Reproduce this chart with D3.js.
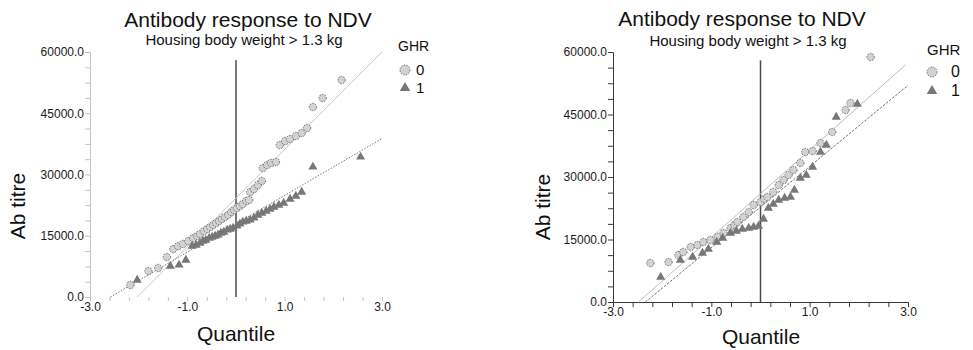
<!DOCTYPE html>
<html>
<head>
<meta charset="utf-8">
<script src="https://cdn.jsdelivr.net/npm/d3@7"></script>
<style>
	body { margin: 0; background: #fff; }
	svg { display: block; font-family: 'Liberation Sans', Arial, sans-serif; }
</style>
</head>
<body>
<div id="chart"></div>
<script>
// tick labels
const yMajorTicks = [0, 15000, 30000, 45000, 60000];
const yMinorTicks = [3750, 7500, 11250, 18750, 22500, 26250, 33750, 37500, 41250, 48750, 52500, 56250];
const xLabelTicks = [-3, -1, 1, 3];
const xMinorTicks = [-2.6, -2.2, -1.8, -1.4, -0.6, -0.2, 0.2, 0.6, 1.4, 1.8, 2.2, 2.6];
const groups = ['0', '1'];

// left panel, GHR = 0 (circles)
const leftQuantile0 = [-2.17, -1.80, -1.60, -1.42, -1.29, -1.19, -1.09, -0.98, -0.88, -0.80, -0.74, -0.66,
	-0.59, -0.53, -0.47, -0.41, -0.35, -0.29, -0.23, -0.16, -0.10, -0.04, 0.02, 0.08, 0.14, 0.21, 0.27,
	0.29, 0.37, 0.45, 0.53, 0.55, 0.64, 0.72, 0.82, 0.90, 1.01, 1.11, 1.23, 1.35, 1.46, 1.58, 1.78, 2.17];
const leftTitre0 = [2940, 6370, 7100, 9800, 11750, 12490, 12980, 13710, 14450, 14940, 15430, 16160,
	16650, 17140, 17630, 18120, 18610, 19100, 19590, 20080, 20820, 21310, 21800, 22290, 22780, 23510, 23760,
	25710, 26450, 27430, 28410, 31590, 32330, 32820, 33060, 37220, 38200, 38690, 39430, 40160, 41390, 46530, 48730, 53140];

// left panel, GHR = 1 (triangles)
const leftQuantile1 = [-2.03, -1.35, -1.17, -1.03, -0.90, -0.82, -0.74, -0.68, -0.62, -0.55, -0.49, -0.43,
	-0.37, -0.31, -0.25, -0.18, -0.12, -0.06, 0.02, 0.08, 0.14, 0.21, 0.29, 0.37, 0.45, 0.53, 0.62, 0.70,
	0.78, 0.88, 0.98, 1.11, 1.23, 1.35, 1.58, 2.56];
const leftTitre1 = [4160, 7590, 7840, 9060, 12490, 12730, 13220, 13710, 13960, 14450, 14690, 14940,
	15180, 15670, 15920, 16410, 16650, 16900, 17390, 17880, 18370, 18610, 18860, 19350, 20080, 20570, 21060, 21550,
	22040, 22530, 23020, 24000, 24730, 25710, 31840, 34290];

// right panel, GHR = 0 (circles)
const rightQuantile0 = [-2.24, -1.87, -1.67, -1.57, -1.42, -1.28, -1.16, -1.02, -0.87, -0.75, -0.61, -0.53,
	-0.47, -0.35, -0.24, -0.14, 0.00, 0.08, 0.14, 0.26, 0.37, 0.47, 0.57, 0.67, 0.81, 0.91, 1.06, 1.22,
	1.46, 1.73, 1.83, 2.24];
const rightTitre0 = [9360, 9600, 11280, 12000, 13200, 13680, 14400, 14880, 15600, 16560, 17760, 18480,
	19200, 20400, 21600, 23280, 24000, 24720, 25200, 26400, 28080, 29280, 30480, 31680, 33360, 36000, 36240, 38160,
	40800, 46080, 47760, 58800];

// right panel, GHR = 1 (triangles)
const rightQuantile1 = [-2.03, -1.63, -1.38, -1.18, -1.06, -0.89, -0.77, -0.61, -0.49, -0.37, -0.24, -0.14,
	-0.04, 0.06, 0.16, 0.26, 0.37, 0.49, 0.61, 0.69, 0.81, 0.93, 1.06, 1.22, 1.34, 1.54, 1.97];
const rightTitre1 = [6000, 10080, 10800, 11760, 12720, 14400, 15360, 16560, 17040, 17520, 17760, 18000,
	18240, 19920, 22560, 23520, 24480, 24960, 25200, 26880, 29760, 30480, 32400, 36000, 37680, 44400, 47520];

// fitted lines [quantile, titre] end points
const leftFit0 = [[-2.03, 0], [3.0, 60000]];
const leftFit1 = [[-2.58, 0], [3.0, 38800]];
const rightFit0 = [[-2.48, 0], [2.95, 56900]];
const rightFit1 = [[-2.34, 0], [3.0, 52000]];

const width = 973;
const height = 350;

const svg = d3.select('#chart').append('svg')
	.attr('width', width)
	.attr('height', height);

svg.append('rect')
	.attr('width', width)
	.attr('height', height)
	.attr('fill', '#fff');

const panels = [
	{
		left: 90, right: 382, top: 52, bottom: 297,
		axisColor: '#c4c4c4', xDomain: false,
		xLabelPad: 1, xTickSize: 4, yLabelPad: 1,
		title: [248, 27], subtitle: [244, 45],
		yTitle: [25, 206], xTitle: [236, 341],
		legend: { x: 398, y: 51, sym: 405, text: 416, rows: [70, 88], font: 14 },
		q0: leftQuantile0, v0: leftTitre0, q1: leftQuantile1, v1: leftTitre1,
		fit0: leftFit0, fit1: leftFit1,
		fit0Style: { stroke: '#c8c8c8', dash: null },
		fit1Style: { stroke: '#7a7a7a', dash: '1.5,1.5' },
	},
	{
		left: 613, right: 908, top: 52, bottom: 302,
		axisColor: '#3a3a3a', xDomain: true,
		xLabelPad: 0, xTickSize: 5, yLabelPad: 1,
		title: [742, 26], subtitle: [748, 46],
		yTitle: [550, 207], xTitle: [761, 344],
		legend: { x: 927, y: 55, sym: 932, text: 951, rows: [72, 91], font: 15 },
		q0: rightQuantile0, v0: rightTitre0, q1: rightQuantile1, v1: rightTitre1,
		fit0: rightFit0, fit1: rightFit1,
		fit0Style: { stroke: '#bdbdbd', dash: null },
		fit1Style: { stroke: '#6e6e6e', dash: '2.5,1.5' },
	},
];

const fmt = (d) => d.toFixed(1);
const triangle = d3.symbol().type(d3.symbolTriangle).size(36);

function drawPanel(p) {
	const xScale = d3.scaleLinear().domain([-3, 3]).range([p.left, p.right]);
	const yScale = d3.scaleLinear().domain([0, 60000]).range([p.bottom, p.top]);
	const g = svg.append('g');

	// y axis
	g.append('g')
		.attr('transform', `translate(${p.left},0)`)
		.call(d3.axisLeft(yScale).tickValues(yMajorTicks).tickFormat(fmt).tickSize(5).tickPadding(p.yLabelPad));
	g.append('g')
		.attr('transform', `translate(${p.left},0)`)
		.call(d3.axisLeft(yScale).tickValues(yMinorTicks).tickFormat('').tickSize(5))
		.select('.domain').remove();

	// x axis
	const xAxis = g.append('g')
		.attr('transform', `translate(0,${p.bottom})`)
		.call(d3.axisBottom(xScale).tickValues(xLabelTicks).tickFormat(fmt).tickSize(p.xTickSize).tickPadding(p.xLabelPad));
	g.append('g')
		.attr('transform', `translate(0,${p.bottom})`)
		.call(d3.axisBottom(xScale).tickValues(xMinorTicks).tickFormat('').tickSize(p.xTickSize))
		.select('.domain').remove();
	if (!p.xDomain) {
		xAxis.select('.domain').remove();
	}

	g.selectAll('.domain, .tick line')
		.attr('stroke', p.axisColor)
		.attr('stroke-width', 1);
	g.selectAll('.tick text')
		.attr('fill', '#1a1a1a')
		.style('font-size', '12px')
		.style('font-family', "'Liberation Sans', Arial, sans-serif");

	// reference line at quantile 0
	g.append('line')
		.attr('x1', xScale(0))
		.attr('x2', xScale(0))
		.attr('y1', yScale(58000))
		.attr('y2', yScale(0))
		.attr('stroke', '#4a4a4a')
		.attr('stroke-width', 1.5);

	// fitted lines
	const line = d3.line()
		.x((d) => xScale(d[0]))
		.y((d) => yScale(d[1]));
	g.append('path')
		.datum(p.fit0)
		.attr('fill', 'none')
		.attr('stroke', p.fit0Style.stroke)
		.attr('stroke-width', 1)
		.attr('d', line);
	g.append('path')
		.datum(p.fit1)
		.attr('fill', 'none')
		.attr('stroke', p.fit1Style.stroke)
		.attr('stroke-dasharray', p.fit1Style.dash)
		.attr('stroke-width', 1)
		.attr('d', line);

	// points
	const pts0 = d3.zip(p.q0, p.v0);
	const pts1 = d3.zip(p.q1, p.v1);
	g.selectAll('.dot0')
			.data(pts0)
		.enter().append('circle')
			.attr('class', 'dot0')
			.attr('cx', (d) => xScale(d[0]))
			.attr('cy', (d) => yScale(d[1]))
			.attr('r', 3.7)
			.attr('fill', '#d2d2d2')
			.attr('stroke', '#555')
			.attr('stroke-width', 0.8)
			.attr('stroke-dasharray', '1.5,1.2');
	g.selectAll('.dot1')
			.data(pts1)
		.enter().append('path')
			.attr('class', 'dot1')
			.attr('transform', (d) => `translate(${xScale(d[0])},${yScale(d[1])})`)
			.attr('d', triangle)
			.attr('fill', '#777');

	// titles
	g.append('text')
		.attr('x', p.title[0])
		.attr('y', p.title[1])
		.attr('text-anchor', 'middle')
		.style('font-size', '21px')
		.attr('fill', '#111')
		.text('Antibody response to NDV');
	g.append('text')
		.attr('x', p.subtitle[0])
		.attr('y', p.subtitle[1])
		.attr('text-anchor', 'middle')
		.style('font-size', '15px')
		.attr('fill', '#111')
		.text('Housing body weight > 1.3 kg');
	g.append('text')
		.attr('transform', `translate(${p.yTitle[0]},${p.yTitle[1]}) rotate(-90)`)
		.attr('text-anchor', 'middle')
		.style('font-size', '21px')
		.attr('fill', '#111')
		.text('Ab titre');
	g.append('text')
		.attr('x', p.xTitle[0])
		.attr('y', p.xTitle[1])
		.attr('text-anchor', 'middle')
		.style('font-size', '21px')
		.attr('fill', '#111')
		.text('Quantile');

	// legend
	const lg = p.legend;
	g.append('text')
		.attr('x', lg.x)
		.attr('y', lg.y)
		.style('font-size', `${lg.font}px`)
		.attr('fill', '#111')
		.text('GHR');
	g.append('circle')
		.attr('cx', lg.sym)
		.attr('cy', lg.rows[0])
		.attr('r', 5)
		.attr('fill', '#d2d2d2')
		.attr('stroke', '#555')
		.attr('stroke-width', 0.8)
		.attr('stroke-dasharray', '1.5,1.2');
	g.append('path')
		.attr('transform', `translate(${lg.sym},${lg.rows[1]})`)
		.attr('d', d3.symbol().type(d3.symbolTriangle).size(48))
		.attr('fill', '#777');
	g.selectAll('.lgtext')
			.data(groups)
		.enter().append('text')
			.attr('class', 'lgtext')
			.attr('x', lg.text)
			.attr('y', (d, i) => lg.rows[i] + 5)
			.style('font-size', `${lg.font + 1}px`)
			.attr('fill', '#111')
			.text((d) => d);
}

panels.forEach(drawPanel);
</script>
</body>
</html>
